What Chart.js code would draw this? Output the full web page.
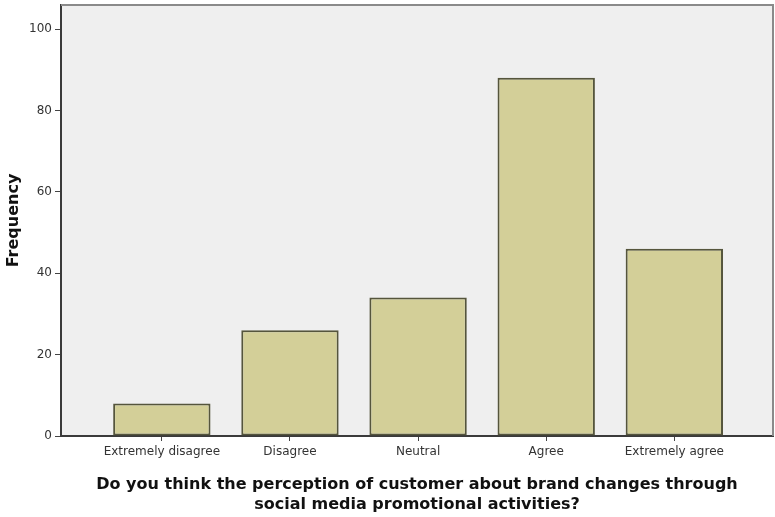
<!DOCTYPE html>
<html>
<head>
<meta charset="utf-8">
<script src="https://cdn.jsdelivr.net/npm/chart.js@4.4.1/dist/chart.umd.min.js"></script>
<style>
	html, body { margin: 0; padding: 0; background: #fff; }
	#wrap { width: 775px; height: 517px; }
</style>
</head>
<body>
<div id="wrap"><canvas id="chart"></canvas></div>
<script>
const categories = ["Extremely disagree", "Disagree", "Neutral", "Agree", "Extremely agree"];
const frequency = [8, 26, 34, 88, 46];
const yTicks = [0, 20, 40, 60, 80, 100];
const xTitle = ["Do you think the perception of customer about brand changes through", "social media promotional activities?"];
const yTitle = "Frequency";

// plot background + top/right frame, SPSS style
const frame = {
	id: "frame",
	beforeDraw: (chart) => {
		let a = chart.chartArea;
		let ctx = chart.ctx;
		ctx.save();
		ctx.fillStyle = "#efefef";
		ctx.fillRect(a.left, a.top, a.right - a.left, a.bottom - a.top);
		ctx.restore();
	},
	afterDraw: (chart) => {
		let a = chart.chartArea;
		let ctx = chart.ctx;
		ctx.save();
		ctx.strokeStyle = "#8a8a8a";
		ctx.lineWidth = 2;
		ctx.beginPath();
		ctx.moveTo(a.left, a.top);
		ctx.lineTo(a.right, a.top);
		ctx.lineTo(a.right, a.bottom);
		ctx.stroke();
		ctx.restore();
	}
};

new Chart(document.getElementById("chart"), {
	type: "bar",
	data: {
		datasets: [{
			data: categories.map((c, i) => ({ x: i, y: frequency[i] })),
			backgroundColor: "#d3cf98",
			borderColor: "#55553c",
			borderWidth: 2,
			borderSkipped: false,
			categoryPercentage: 1,
			barPercentage: 0.76
		}]
	},
	options: {
		responsive: true,
		maintainAspectRatio: false,
		animation: false,
		layout: { padding: { top: 5, right: 2, left: 0, bottom: 0 } },
		scales: {
			x: {
				type: "linear",
				min: -0.787,
				max: 4.77,
				offset: false,
				afterBuildTicks: (s) => { s.ticks = categories.map((c, i) => ({ value: i })); },
				afterFit: (s) => { s.height = 81; },
				grid: { offset: false, drawOnChartArea: false, color: "#444", tickLength: 5, tickWidth: 1 },
				border: { display: true, color: "#3a3a3a", width: 2 },
				ticks: {
					callback: (v) => categories[v],
					color: "#333",
					padding: 4,
					maxRotation: 0,
					autoSkip: false,
					font: { family: "DejaVu Sans", size: 12 }
				},
				title: {
					display: true,
					text: xTitle,
					color: "#111",
					padding: { top: 0, bottom: 2 },
					font: { family: "DejaVu Sans", size: 16, weight: "bold", lineHeight: 1.25 }
				}
			},
			y: {
				min: 0,
				max: 105.9,
				afterBuildTicks: (s) => { s.ticks = yTicks.map(v => ({ value: v })); },
				afterFit: (s) => {
					s.width = 61;
					s.paddingTop = 0;   // the 100 label sits well below the top, no room needed
					s.paddingBottom = 0;
				},
				grid: { drawOnChartArea: false, color: "#444", tickLength: 6, tickWidth: 1 },
				border: { display: true, color: "#3a3a3a", width: 2 },
				ticks: {
					color: "#333",
					padding: 3,
					font: { family: "DejaVu Sans", size: 12 }
				},
				title: {
					display: true,
					text: yTitle,
					color: "#111",
					padding: { top: 4, bottom: 0 },
					font: { family: "DejaVu Sans", size: 16, weight: "bold" }
				}
			}
		},
		plugins: {
			legend: { display: false },
			tooltip: { enabled: false }
		}
	},
	plugins: [frame]
});
</script>
</body>
</html>
